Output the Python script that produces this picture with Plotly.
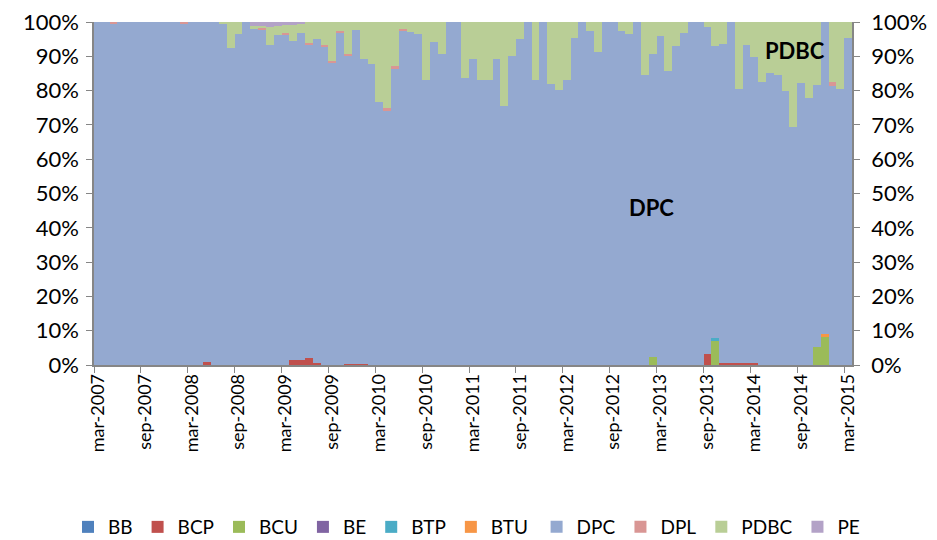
import plotly.graph_objects as go

# months mar-2007 .. mar-2015 (97 bars)
month_names = ["ene", "feb", "mar", "abr", "may", "jun",
               "jul", "ago", "sep", "oct", "nov", "dic"]
months = []
for year in range(2007, 2016):
    for m in range(12):
        if (year == 2007 and m < 2) or (year == 2015 and m > 2):
            continue
        months.append(f"{month_names[m]}-{year}")

# shares in percent, one entry per month
bb = [0] * 97
be = [0] * 97

bcp = [0, 0, 0, 0, 0, 0, 0, 0, 0, 0, 0, 0, 0, 0, 1.0, 0, 0, 0, 0, 0,
       0, 0, 0, 0, 0, 1.5, 1.5, 2.0, 0.5, 0, 0, 0, 0.4, 0.4, 0.3, 0, 0, 0, 0, 0,
       0, 0, 0, 0, 0, 0, 0, 0, 0, 0, 0, 0, 0, 0, 0, 0, 0, 0, 0, 0,
       0, 0, 0, 0, 0, 0, 0, 0, 0, 0, 0, 0, 0, 0, 0, 0, 0, 0, 3.2, 0,
       0.5, 0.5, 0.5, 0.5, 0.5, 0, 0, 0, 0, 0, 0, 0, 0, 0, 0, 0, 0]

bcu = [0] * 71 + [2.2, 0, 0, 0, 0, 0, 0, 0, 7.0,
                  0, 0, 0, 0, 0, 0, 0, 0, 0, 0, 0, 0, 5.3, 8.2, 0, 0, 0]

btp = [0] * 79 + [0.8] + [0] * 17
btu = [0] * 93 + [0.8, 0, 0, 0]

dpc = [100, 100, 99.3, 100, 100, 100, 100, 100, 100, 100,
       100, 99.6, 100, 100, 99.0, 100, 99.5, 92.4, 96.5, 100,
       98.0, 97.8, 93.4, 96.1, 96.4, 93.0, 95.2, 91.2, 94.5, 92.6,
       88.0, 96.7, 89.6, 97.2, 89.0, 87.8, 76.7, 74.1, 86.3, 97.4,
       97.1, 96.4, 83.1, 94.3, 90.6, 100, 100, 83.8, 89.3, 83.1,
       83.1, 89.1, 75.4, 90.1, 95.0, 100, 83.1, 100, 81.9, 80.2,
       83.1, 95.4, 100, 97.5, 91.4, 100, 100, 97.5, 96.5, 100,
       84.6, 88.6, 95.9, 85.6, 93.0, 96.7, 100, 100, 95.3, 85.3,
       93.1, 99.5, 80.1, 92.7, 89.3, 82.6, 85.2, 84.5, 80.0, 69.4,
       82.1, 77.7, 76.2, 91.0, 81.3, 80.6, 95.3]

dpl = [0, 0, 0.7, 0, 0, 0, 0, 0, 0, 0, 0, 0.4, 0, 0, 0, 0, 0, 0, 0, 0,
       0, 0.5, 0, 0, 0.4, 0, 0, 0.7, 0, 0.7, 0.7, 0.7, 0.7, 0, 0, 0, 0, 0.7, 0.8, 0.6,
       0, 0, 0, 0, 0, 0, 0, 0, 0, 0, 0, 0, 0, 0, 0, 0, 0, 0, 0, 0,
       0, 0, 0, 0, 0, 0, 0, 0, 0, 0, 0, 0, 0, 0, 0, 0, 0, 0, 0, 0,
       0, 0, 0, 0, 0, 0, 0, 0, 0, 0, 0, 0, 0, 0, 1.3, 0, 0]

pdbc = [0, 0, 0, 0, 0, 0, 0, 0, 0, 0, 0, 0, 0, 0, 0, 0, 0.5, 7.6, 3.5, 0,
        0.8, 0.5, 5.2, 2.6, 2.4, 4.6, 3.0, 6.1, 5.0, 6.7,
        11.3, 2.6, 9.3, 2.4, 10.7, 12.2, 23.3, 25.2, 12.9, 2.0,
        2.9, 3.6, 16.9, 5.7, 9.4, 0, 0, 16.2, 10.7, 16.9,
        16.9, 10.9, 24.6, 9.9, 5.0, 0, 16.9, 0, 18.1, 19.8,
        16.9, 4.6, 0, 2.5, 8.6, 0, 0, 2.5, 3.5, 0,
        15.4, 9.2, 4.1, 14.4, 7.0, 3.3, 0, 0, 1.5, 6.9,
        6.4, 0, 19.4, 6.8, 10.2, 17.4, 14.8, 15.5, 20.0, 30.6,
        17.9, 22.3, 18.5, 0, 17.4, 19.4, 4.7]

pe = [0] * 20 + [1.2, 1.2, 1.4, 1.3, 0.8, 0.9, 0.3] + [0] * 70

series = [
    ("BB", bb, "#4F81BD"),
    ("BCP", bcp, "#C0504D"),
    ("BCU", bcu, "#9BBB59"),
    ("BE", be, "#8064A2"),
    ("BTP", btp, "#4BACC6"),
    ("BTU", btu, "#F79646"),
    ("DPC", dpc, "#94A9D0"),
    ("DPL", dpl, "#D99694"),
    ("PDBC", pdbc, "#B9CE96"),
    ("PE", pe, "#B3A2C7"),
]

pct_vals = list(range(0, 101, 10))
pct_text = [f"{v}%" for v in pct_vals]

font = "Lato, 'Open Sans', sans-serif"

fig = go.Figure()
for i, (name, vals, color) in enumerate(series):
    # legend split in two halves so the long row never wraps
    fig.add_trace(go.Bar(x=months, y=vals, name=name,
                         legend="legend" if i < 6 else "legend2",
                         marker=dict(color=color, line=dict(width=0))))

# invisible helper so the right-hand axis is drawn
fig.add_trace(go.Scatter(x=[months[0]], y=[None], yaxis="y2",
                         showlegend=False, hoverinfo="skip"))

axis_grey = "#868686"
yaxis_style = dict(range=[0, 100], tickvals=pct_vals, ticktext=pct_text,
                   ticks="outside", ticklen=6, tickcolor=axis_grey,
                   showline=True, linecolor=axis_grey, linewidth=1.5,
                   showgrid=False, zeroline=False, automargin=False,
                   ticklabeloverflow="allow", tickfont=dict(size=22))
legend_style = dict(orientation="h", xref="container", yref="container",
                    xanchor="left", y=0.0244, yanchor="middle",
                    traceorder="normal", font=dict(size=19))

# page body adds 8px offset, so the figure is 8px smaller than the window
fig.update_layout(
    width=929, height=532,
    barmode="stack", barnorm="percent", bargap=0,
    plot_bgcolor="white", paper_bgcolor="white",
    margin=dict(l=86, r=85, t=14, b=175),
    font=dict(family=font, size=18, color="black"),
    showlegend=True,
    legend=dict(legend_style, x=0.0646),
    legend2=dict(legend_style, x=0.569),
    xaxis=dict(type="category", range=[-0.5, 96.5],
               tickmode="linear", tick0=0, dtick=6,
               tickson="boundaries", tickangle=-90, ticks="outside",
               ticklen=6, tickcolor=axis_grey, showline=True,
               linecolor=axis_grey, linewidth=1.5, showgrid=False,
               tickfont=dict(size=18), automargin=False),
    yaxis=dict(yaxis_style, ticklabelstandoff=3),
    yaxis2=dict(yaxis_style, overlaying="y", side="right",
                ticklabelstandoff=7),
    annotations=[
        dict(text="<b>DPC</b>", xref="paper", yref="paper", x=0.736,
             y=0.458, xanchor="center", yanchor="middle",
             showarrow=False, font=dict(size=22)),
        dict(text="<b>PDBC</b>", xref="paper", yref="paper", x=0.925,
             y=0.918, xanchor="center", yanchor="middle",
             showarrow=False, font=dict(size=22)),
    ],
)

fig.write_html("out.html")
